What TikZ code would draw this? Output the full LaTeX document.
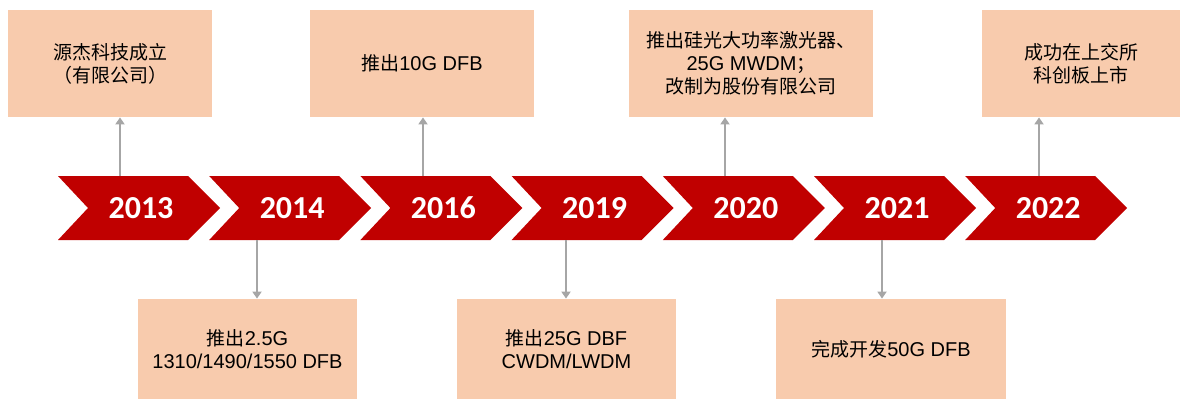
\documentclass[tikz,border=0pt]{standalone}
\usepackage{fontspec}
\setmainfont{Liberation Sans}
\newfontfamily\cjk[Scale=0.95]{Noto Sans CJK SC}
\newfontfamily\yearfont{Carlito}
\usetikzlibrary{arrows.meta}
\definecolor{chevred}{HTML}{C00000}
\definecolor{peach}{HTML}{F8CBAD}
\definecolor{arrgray}{HTML}{A6A6A6}
\tikzset{
  evbox/.style={fill=peach, draw=none, inner sep=0pt, align=center,
    font=\fontsize{10pt}{11.5pt}\selectfont},
  yearlbl/.style={text=white, font=\yearfont\bfseries\fontsize{16pt}{18pt}\selectfont, inner sep=0pt},
  arr/.style={draw=arrgray, line width=1pt, -{Triangle[length=3.5pt,width=4.5pt]}}
}
\begin{document}
\begin{tikzpicture}[x=0.5pt,y=-0.5pt]
\useasboundingbox (0,0) rectangle (1181,401);
% chevrons with year labels
\foreach \i/\yr in {0/2013,1/2014,2/2016,3/2019,4/2020,5/2021,6/2022}{
  \pgfmathsetmacro\s{58+151.2*\i}
  \fill[chevred] (\s,176) -- ({\s+130},176) -- ({\s+162},208) -- ({\s+130},240)
    -- (\s,240) -- ({\s+30},208) -- cycle;
  \node[yearlbl] (y\yr) at ({\s+83},208) {\yr};
}
% event boxes (top)
\node[evbox, minimum width=102pt, minimum height=53.5pt] (b2013) at (110,63.5)
  {{\cjk 源杰科技成立}\\{\cjk （有限公司）}};
\node[evbox, minimum width=112pt, minimum height=53.5pt] (b2016) at (422,63.5)
  {{\cjk 推出}10G DFB};
\node[evbox, minimum width=122pt, minimum height=53.5pt] (b2020) at (751,63.5)
  {{\cjk 推出硅光大功率激光器、}\\25G MWDM{\cjk ；}\\{\cjk 改制为股份有限公司}};
\node[evbox, minimum width=99pt, minimum height=53.5pt] (b2022) at (1081,63.5)
  {{\cjk 成功在上交所}\\{\cjk 科创板上市}};
% event boxes (bottom)
\node[evbox, minimum width=109.5pt, minimum height=50pt] (b2014) at (247.5,349)
  {{\cjk 推出}2.5G\\1310/1490/1550 DFB};
\node[evbox, minimum width=109.5pt, minimum height=50pt] (b2019) at (566.5,349)
  {{\cjk 推出}25G DBF\\CWDM/LWDM};
\node[evbox, minimum width=115pt, minimum height=50pt] (b2021) at (891,349)
  {{\cjk 完成开发}50G DFB};
% connector start points on the chevrons
\coordinate (a2013) at (120,176);
\coordinate (a2016) at (423,176);
\coordinate (a2020) at (725,176);
\coordinate (a2022) at (1039,176);
\coordinate (a2014) at (257,240);
\coordinate (a2019) at (566,240);
\coordinate (a2021) at (882,240);
% connectors
\draw[arr] (a2013) -- (a2013 |- b2013.south);
\draw[arr] (a2016) -- (a2016 |- b2016.south);
\draw[arr] (a2020) -- (a2020 |- b2020.south);
\draw[arr] (a2022) -- (a2022 |- b2022.south);
\draw[arr] (a2014) -- (a2014 |- b2014.north);
\draw[arr] (a2019) -- (a2019 |- b2019.north);
\draw[arr] (a2021) -- (a2021 |- b2021.north);
\end{tikzpicture}
\end{document}
